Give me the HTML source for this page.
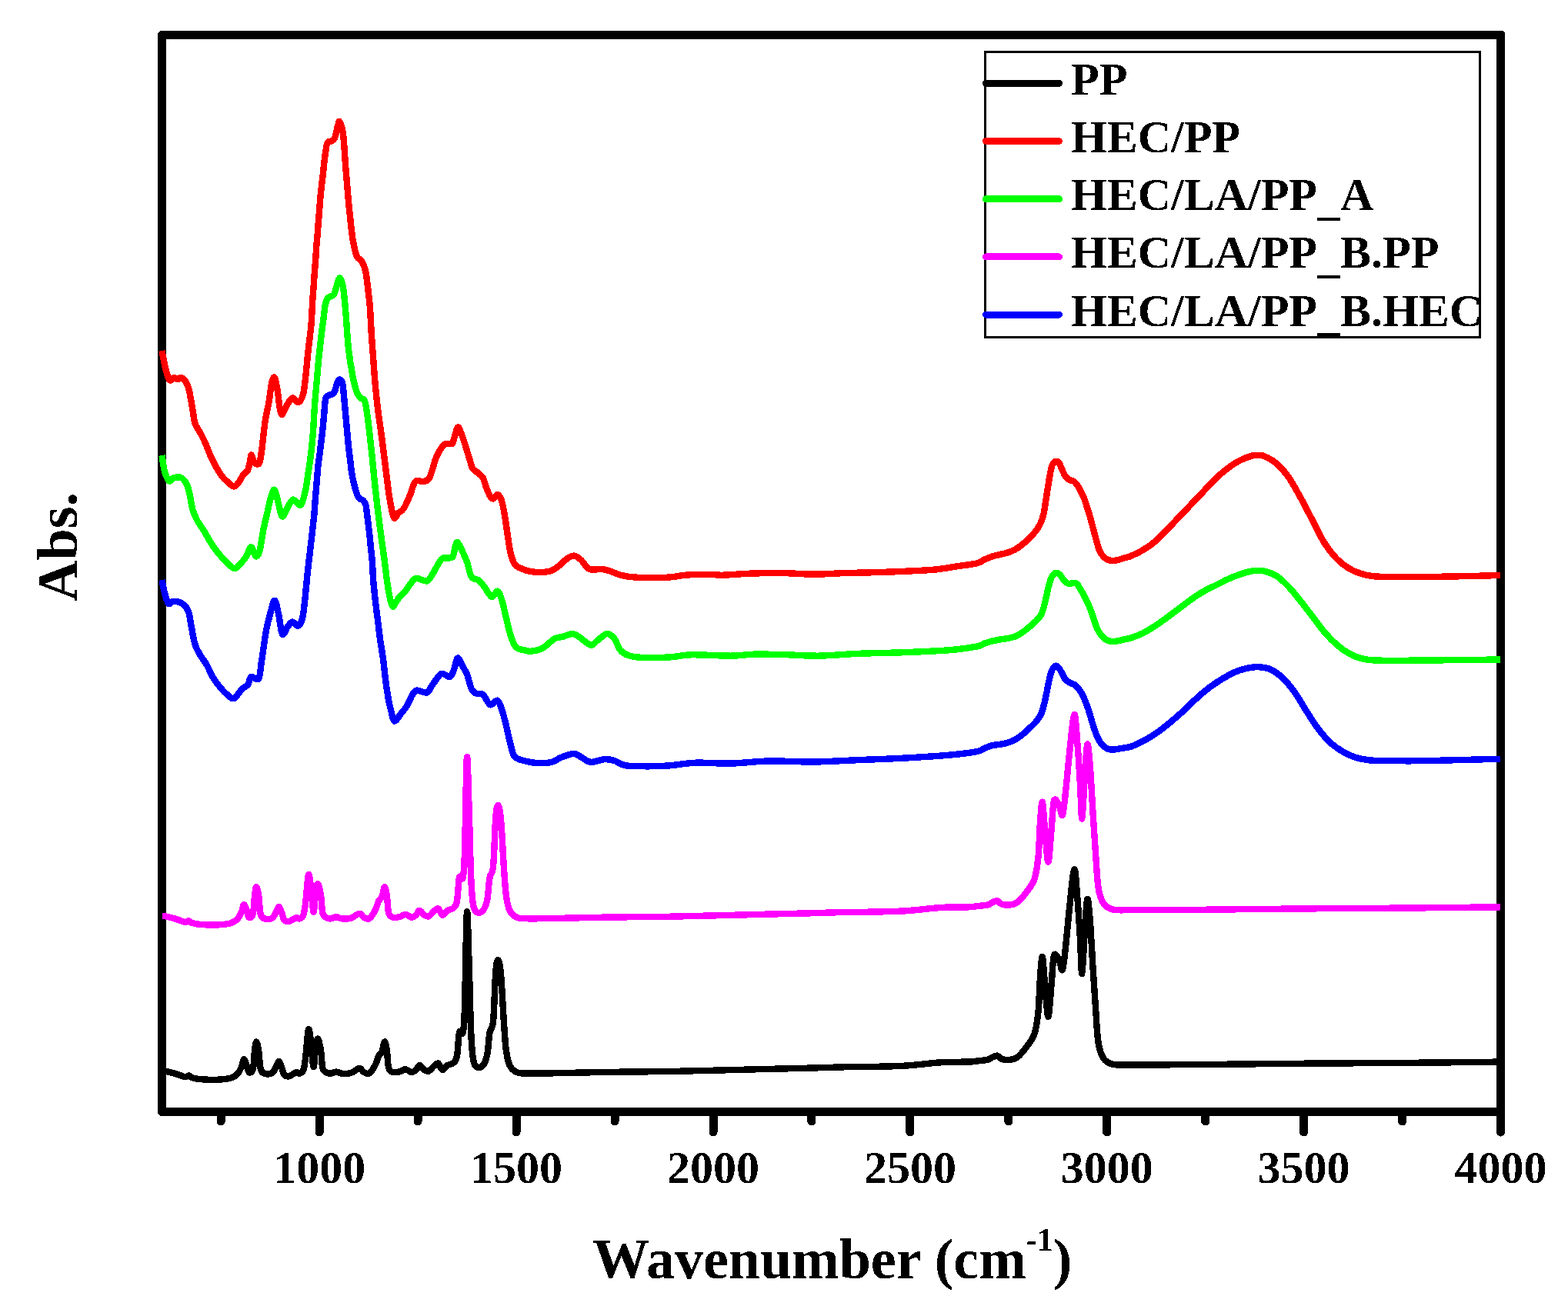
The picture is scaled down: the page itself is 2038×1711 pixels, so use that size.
<!DOCTYPE html><html><head><meta charset="utf-8"><title>FTIR spectra</title><style>html,body{margin:0;padding:0;background:#fff;overflow:hidden;}svg{display:block;}path,line,rect{shape-rendering:crispEdges;}text{font-family:"Liberation Serif","Times New Roman",serif;font-weight:bold;fill:#000;}</style></head><body>
<svg width="2038" height="1711" viewBox="0 0 2038 1711">
<defs><filter id="crisp" x="-10%" y="-30%" width="120%" height="160%" color-interpolation-filters="sRGB"><feComponentTransfer><feFuncA type="discrete" tableValues="0 1"/></feComponentTransfer></filter></defs>
<rect width="2038" height="1711" fill="#fff"/>
<g stroke="#000" stroke-width="11" stroke-linecap="round"><line x1="287.3" y1="1446.5" x2="287.3" y2="1458"/><line x1="415.2" y1="1446.5" x2="415.2" y2="1472"/><line x1="543.1" y1="1446.5" x2="543.1" y2="1458"/><line x1="671.1" y1="1446.5" x2="671.1" y2="1472"/><line x1="799.0" y1="1446.5" x2="799.0" y2="1458"/><line x1="927.0" y1="1446.5" x2="927.0" y2="1472"/><line x1="1054.9" y1="1446.5" x2="1054.9" y2="1458"/><line x1="1182.9" y1="1446.5" x2="1182.9" y2="1472"/><line x1="1310.8" y1="1446.5" x2="1310.8" y2="1458"/><line x1="1438.7" y1="1446.5" x2="1438.7" y2="1472"/><line x1="1566.7" y1="1446.5" x2="1566.7" y2="1458"/><line x1="1694.6" y1="1446.5" x2="1694.6" y2="1472"/><line x1="1822.6" y1="1446.5" x2="1822.6" y2="1458"/><line x1="1950.5" y1="1446.5" x2="1950.5" y2="1472"/></g>
<path fill="#000" fill-rule="evenodd" d="M208 40L1953 40L1956 43L1956 1451L208 1451L205 1448L205 43Z M216 51L1945 51L1945 1440L216 1440Z"/>
<path d="M210.5 1392.5C211.3 1392.5 212.3 1392.0 215.5 1392.7C218.7 1393.4 225.4 1395.2 229.4 1396.4C233.4 1397.6 237.4 1399.5 239.7 1400.0C242.0 1400.5 242.0 1399.8 243.0 1399.5C244.0 1399.2 244.6 1398.2 245.6 1398.5C246.6 1398.8 246.8 1400.2 249.0 1401.0C251.2 1401.8 253.6 1402.5 258.9 1403.0C264.2 1403.5 274.1 1404.0 281.0 1403.8C287.9 1403.6 295.3 1402.9 300.0 1401.6C304.7 1400.2 306.7 1398.2 309.0 1395.7C311.3 1393.2 312.7 1390.0 314.0 1386.9C315.3 1383.8 315.9 1377.5 317.0 1377.3C318.1 1377.0 319.6 1382.6 320.7 1385.4C321.8 1388.2 322.3 1393.5 323.7 1394.2C325.1 1394.9 327.6 1394.5 328.8 1389.8C330.0 1385.1 330.3 1371.9 331.0 1366.0C331.7 1360.1 332.3 1354.5 333.2 1354.5C334.1 1354.5 335.2 1359.9 336.2 1366.0C337.2 1372.1 337.3 1386.2 339.1 1391.3C340.9 1396.4 344.6 1395.9 347.2 1396.4C349.8 1396.9 352.5 1396.0 354.6 1394.2C356.7 1392.4 358.4 1387.7 359.7 1385.4C361.0 1383.1 361.6 1379.7 362.7 1380.2C363.8 1380.7 365.2 1385.5 366.3 1388.3C367.4 1391.1 367.8 1395.3 369.3 1397.2C370.8 1399.1 373.2 1399.5 375.2 1399.4C377.2 1399.3 379.4 1397.3 381.1 1396.4C382.8 1395.5 384.1 1394.3 385.5 1394.2C386.9 1394.1 387.7 1396.2 389.2 1395.7C390.7 1395.2 392.9 1395.0 394.3 1391.3C395.7 1387.6 396.2 1382.4 397.3 1373.6C398.4 1364.8 399.8 1340.8 401.0 1338.3C402.2 1335.8 403.5 1350.8 404.6 1358.9C405.7 1367.0 406.6 1386.9 407.6 1386.9C408.6 1386.9 409.5 1364.9 410.5 1358.9C411.5 1352.9 412.4 1349.6 413.5 1350.8C414.6 1352.0 416.1 1360.0 417.1 1366.2C418.1 1372.5 418.2 1383.6 419.3 1388.3C420.4 1393.0 422.1 1393.0 423.8 1394.2C425.5 1395.4 427.4 1395.8 429.6 1395.7C431.8 1395.6 434.5 1393.5 437.0 1393.5C439.5 1393.5 441.2 1395.5 444.4 1395.7C447.6 1396.0 452.3 1396.1 456.1 1395.0C459.9 1393.9 464.5 1389.2 467.2 1389.0C469.9 1388.8 470.2 1392.4 472.3 1393.5C474.4 1394.6 477.1 1397.1 479.7 1395.7C482.2 1394.3 485.5 1388.8 487.6 1385.0C489.7 1381.2 490.7 1375.8 492.2 1372.8C493.7 1369.8 495.4 1369.8 496.7 1366.7C498.0 1363.7 498.8 1354.8 499.8 1354.5C500.8 1354.2 501.9 1359.6 502.8 1365.2C503.7 1370.8 503.8 1383.2 505.1 1388.0C506.4 1392.8 508.0 1393.1 510.4 1394.0C512.8 1394.9 516.7 1393.9 519.5 1393.3C522.3 1392.7 524.6 1390.1 527.1 1390.2C529.6 1390.3 532.4 1393.9 534.7 1394.0C537.0 1394.1 539.0 1392.5 540.8 1391.0C542.6 1389.5 543.5 1385.0 545.3 1385.0C547.1 1385.0 549.4 1389.8 551.4 1391.0C553.4 1392.2 555.5 1393.3 557.5 1392.5C559.5 1391.7 561.6 1388.1 563.6 1386.4C565.6 1384.8 567.8 1381.8 569.7 1382.6C571.6 1383.4 573.0 1390.6 575.0 1391.0C577.0 1391.4 579.4 1386.5 581.8 1385.0C584.2 1383.5 587.4 1383.9 589.4 1381.9C591.4 1379.9 592.7 1379.4 594.0 1372.8C595.3 1366.2 595.7 1347.5 597.0 1342.4C598.3 1337.3 600.5 1347.5 601.6 1342.4C602.8 1337.3 603.0 1338.1 603.9 1312.0C604.8 1285.9 605.9 1193.4 606.9 1185.8C607.9 1178.2 609.1 1240.3 610.0 1266.4C610.9 1292.5 611.3 1323.7 612.2 1342.4C613.1 1361.1 613.8 1371.2 615.3 1378.8C616.8 1386.4 619.0 1387.2 621.3 1388.0C623.6 1388.8 626.9 1386.5 628.9 1383.4C630.9 1380.4 632.2 1376.5 633.5 1369.7C634.8 1362.9 635.2 1349.5 636.5 1342.4C637.8 1335.3 639.8 1339.9 641.1 1327.2C642.4 1314.5 643.1 1279.6 644.1 1266.4C645.1 1253.2 646.1 1248.1 647.2 1248.1C648.4 1248.1 649.7 1253.2 651.0 1266.4C652.3 1279.6 653.7 1310.7 654.8 1327.2C655.9 1343.7 656.5 1355.6 657.8 1365.2C659.1 1374.8 660.1 1380.2 662.4 1385.0C664.7 1389.8 667.7 1392.2 671.5 1394.0C675.3 1395.8 677.1 1395.4 685.2 1395.6C693.3 1395.8 702.8 1395.6 720.0 1395.3C737.2 1395.0 763.2 1394.3 788.3 1393.9C813.4 1393.5 846.2 1393.4 870.7 1393.0C895.2 1392.6 914.9 1392.0 935.5 1391.5C956.1 1391.0 974.8 1390.5 994.4 1390.0C1014.0 1389.5 1035.1 1389.1 1053.3 1388.6C1071.5 1388.1 1091.5 1387.3 1103.3 1387.1C1115.1 1386.8 1111.7 1387.3 1124.0 1387.1C1136.3 1386.8 1160.2 1386.6 1176.9 1385.6C1193.6 1384.6 1210.3 1382.0 1224.0 1381.2C1237.7 1380.4 1251.6 1380.9 1259.3 1380.6C1267.0 1380.3 1266.0 1380.0 1270.0 1379.5C1274.0 1379.0 1280.2 1378.6 1283.6 1377.8C1287.0 1377.0 1288.2 1375.2 1290.3 1374.4C1292.4 1373.6 1294.3 1372.3 1296.3 1372.7C1298.3 1373.1 1299.5 1376.2 1302.2 1377.0C1304.9 1377.8 1309.0 1378.2 1312.4 1377.8C1315.8 1377.4 1318.8 1377.2 1322.5 1374.4C1326.2 1371.6 1330.7 1365.9 1334.4 1360.8C1338.1 1355.7 1342.0 1351.8 1344.6 1343.9C1347.1 1336.0 1348.6 1324.1 1349.7 1313.4C1350.8 1302.7 1350.6 1291.1 1351.4 1279.5C1352.2 1267.9 1353.6 1243.9 1354.7 1243.9C1355.8 1243.9 1356.8 1266.5 1358.1 1279.5C1359.4 1292.5 1361.0 1321.9 1362.4 1321.9C1363.8 1321.9 1365.3 1292.8 1366.6 1279.5C1367.9 1266.2 1368.3 1247.3 1370.0 1242.2C1371.7 1237.1 1375.0 1245.9 1376.8 1249.0C1378.6 1252.1 1379.6 1264.2 1381.0 1260.8C1382.4 1257.4 1383.8 1242.4 1385.3 1228.6C1386.8 1214.8 1388.5 1194.2 1390.3 1177.8C1392.1 1161.4 1394.6 1131.7 1396.3 1130.3C1398.0 1128.9 1399.2 1154.3 1400.5 1169.3C1401.8 1184.3 1402.9 1204.1 1403.9 1220.2C1404.9 1236.3 1405.4 1267.3 1406.4 1265.9C1407.4 1264.5 1408.7 1227.8 1409.8 1211.7C1410.9 1195.6 1412.1 1172.1 1413.2 1169.3C1414.3 1166.5 1415.3 1179.2 1416.6 1194.7C1417.9 1210.2 1419.5 1242.7 1420.8 1262.5C1422.1 1282.3 1423.1 1297.9 1424.2 1313.4C1425.3 1329.0 1425.9 1345.3 1427.6 1355.8C1429.3 1366.2 1431.3 1371.4 1434.4 1376.1C1437.5 1380.8 1440.4 1382.3 1446.3 1383.7C1452.2 1385.1 1449.8 1384.5 1470.0 1384.6C1490.2 1384.6 1530.1 1384.3 1567.6 1384.0C1605.1 1383.7 1652.7 1383.0 1695.2 1382.7C1737.7 1382.4 1780.2 1382.2 1822.7 1381.9C1865.2 1381.6 1928.8 1380.8 1950.0 1380.6" fill="none" stroke="#000000" stroke-width="8.4" stroke-linejoin="round" stroke-linecap="butt"/>
<path d="M210.5 1191.2C211.3 1191.2 212.3 1190.8 215.5 1191.4C218.7 1192.1 225.4 1193.9 229.4 1195.1C233.4 1196.3 237.4 1198.2 239.7 1198.7C242.0 1199.2 242.0 1198.5 243.0 1198.2C244.0 1198.0 244.6 1197.0 245.6 1197.2C246.6 1197.5 246.8 1199.0 249.0 1199.7C251.2 1200.5 253.6 1201.2 258.9 1201.7C264.2 1202.2 274.1 1202.7 281.0 1202.5C287.9 1202.3 295.3 1201.6 300.0 1200.3C304.7 1199.0 306.7 1196.9 309.0 1194.4C311.3 1192.0 312.7 1188.7 314.0 1185.6C315.3 1182.5 315.9 1176.2 317.0 1176.0C318.1 1175.8 319.6 1181.3 320.7 1184.1C321.8 1186.9 322.3 1192.2 323.7 1192.9C325.1 1193.6 327.6 1193.2 328.8 1188.5C330.0 1183.8 330.3 1170.6 331.0 1164.7C331.7 1158.8 332.3 1153.2 333.2 1153.2C334.1 1153.2 335.2 1158.6 336.2 1164.7C337.2 1170.8 337.3 1184.9 339.1 1190.0C340.9 1195.1 344.6 1194.6 347.2 1195.1C349.8 1195.6 352.5 1194.7 354.6 1192.9C356.7 1191.1 358.4 1186.4 359.7 1184.1C361.0 1181.8 361.6 1178.4 362.7 1178.9C363.8 1179.4 365.2 1184.2 366.3 1187.0C367.4 1189.8 367.8 1194.1 369.3 1195.9C370.8 1197.8 373.2 1198.2 375.2 1198.1C377.2 1198.0 379.4 1196.0 381.1 1195.1C382.8 1194.2 384.1 1193.0 385.5 1192.9C386.9 1192.8 387.7 1194.9 389.2 1194.4C390.7 1193.9 392.9 1193.7 394.3 1190.0C395.7 1186.3 396.2 1181.1 397.3 1172.3C398.4 1163.5 399.8 1139.5 401.0 1137.0C402.2 1134.5 403.5 1149.5 404.6 1157.6C405.7 1165.7 406.6 1185.6 407.6 1185.6C408.6 1185.6 409.5 1163.6 410.5 1157.6C411.5 1151.6 412.4 1148.3 413.5 1149.5C414.6 1150.7 416.1 1158.7 417.1 1164.9C418.1 1171.2 418.2 1182.3 419.3 1187.0C420.4 1191.7 422.1 1191.7 423.8 1192.9C425.5 1194.1 427.4 1194.5 429.6 1194.4C431.8 1194.3 434.5 1192.2 437.0 1192.2C439.5 1192.2 441.2 1194.2 444.4 1194.4C447.6 1194.7 452.3 1194.8 456.1 1193.7C459.9 1192.6 464.5 1188.0 467.2 1187.7C469.9 1187.5 470.2 1191.1 472.3 1192.2C474.4 1193.3 477.1 1195.8 479.7 1194.4C482.2 1193.0 485.5 1187.5 487.6 1183.7C489.7 1179.9 490.7 1174.5 492.2 1171.5C493.7 1168.5 495.4 1168.5 496.7 1165.4C498.0 1162.4 498.8 1153.5 499.8 1153.2C500.8 1153.0 501.9 1158.3 502.8 1163.9C503.7 1169.5 503.8 1181.9 505.1 1186.7C506.4 1191.5 508.0 1191.8 510.4 1192.7C512.8 1193.6 516.7 1192.6 519.5 1192.0C522.3 1191.4 524.6 1188.8 527.1 1188.9C529.6 1189.0 532.4 1192.6 534.7 1192.7C537.0 1192.8 539.0 1191.2 540.8 1189.7C542.6 1188.2 543.5 1183.7 545.3 1183.7C547.1 1183.7 549.4 1188.5 551.4 1189.7C553.4 1191.0 555.5 1192.0 557.5 1191.2C559.5 1190.4 561.6 1186.8 563.6 1185.1C565.6 1183.5 567.8 1180.5 569.7 1181.3C571.6 1182.1 573.0 1189.3 575.0 1189.7C577.0 1190.1 579.4 1185.2 581.8 1183.7C584.2 1182.2 587.4 1182.6 589.4 1180.6C591.4 1178.6 592.7 1178.1 594.0 1171.5C595.3 1164.9 595.7 1146.2 597.0 1141.1C598.3 1136.0 600.5 1146.2 601.6 1141.1C602.8 1136.0 603.0 1136.8 603.9 1110.7C604.8 1084.6 605.9 992.1 606.9 984.5C607.9 976.9 609.1 1039.0 610.0 1065.1C610.9 1091.2 611.3 1122.4 612.2 1141.1C613.1 1159.8 613.8 1169.9 615.3 1177.5C616.8 1185.1 619.0 1185.9 621.3 1186.7C623.6 1187.5 626.9 1185.2 628.9 1182.1C630.9 1179.1 632.2 1175.2 633.5 1168.4C634.8 1161.6 635.2 1148.2 636.5 1141.1C637.8 1134.0 639.8 1138.6 641.1 1125.9C642.4 1113.2 643.1 1078.3 644.1 1065.1C645.1 1051.9 646.1 1046.8 647.2 1046.8C648.4 1046.8 649.7 1051.9 651.0 1065.1C652.3 1078.3 653.7 1109.4 654.8 1125.9C655.9 1142.4 656.5 1154.3 657.8 1163.9C659.1 1173.5 660.1 1178.9 662.4 1183.7C664.7 1188.5 667.7 1190.9 671.5 1192.7C675.3 1194.5 677.1 1194.1 685.2 1194.3C693.3 1194.5 702.8 1194.3 720.0 1194.0C737.2 1193.7 763.2 1193.0 788.3 1192.6C813.4 1192.2 846.2 1192.1 870.7 1191.7C895.2 1191.3 914.9 1190.7 935.5 1190.2C956.1 1189.7 974.8 1189.2 994.4 1188.7C1014.0 1188.2 1035.1 1187.8 1053.3 1187.3C1071.5 1186.8 1091.5 1186.0 1103.3 1185.8C1115.1 1185.5 1111.7 1186.0 1124.0 1185.8C1136.3 1185.5 1160.2 1185.3 1176.9 1184.3C1193.6 1183.3 1210.3 1180.7 1224.0 1179.9C1237.7 1179.1 1251.6 1179.6 1259.3 1179.3C1267.0 1179.0 1266.0 1178.7 1270.0 1178.2C1274.0 1177.7 1280.2 1177.3 1283.6 1176.5C1287.0 1175.7 1288.2 1174.0 1290.3 1173.1C1292.4 1172.3 1294.3 1171.0 1296.3 1171.4C1298.3 1171.8 1299.5 1174.9 1302.2 1175.7C1304.9 1176.5 1309.0 1176.9 1312.4 1176.5C1315.8 1176.1 1318.8 1175.9 1322.5 1173.1C1326.2 1170.3 1330.7 1164.6 1334.4 1159.5C1338.1 1154.4 1342.0 1150.5 1344.6 1142.6C1347.1 1134.7 1348.6 1122.8 1349.7 1112.1C1350.8 1101.4 1350.6 1089.8 1351.4 1078.2C1352.2 1066.6 1353.6 1042.6 1354.7 1042.6C1355.8 1042.6 1356.8 1065.2 1358.1 1078.2C1359.4 1091.2 1361.0 1120.6 1362.4 1120.6C1363.8 1120.6 1365.3 1091.5 1366.6 1078.2C1367.9 1064.9 1368.3 1046.0 1370.0 1040.9C1371.7 1035.8 1375.0 1044.6 1376.8 1047.7C1378.6 1050.8 1379.6 1062.9 1381.0 1059.5C1382.4 1056.1 1383.8 1041.1 1385.3 1027.3C1386.8 1013.5 1388.5 992.9 1390.3 976.5C1392.1 960.1 1394.6 930.4 1396.3 929.0C1398.0 927.6 1399.2 953.0 1400.5 968.0C1401.8 983.0 1402.9 1002.8 1403.9 1018.9C1404.9 1035.0 1405.4 1066.0 1406.4 1064.6C1407.4 1063.2 1408.7 1026.5 1409.8 1010.4C1410.9 994.3 1412.1 970.8 1413.2 968.0C1414.3 965.2 1415.3 977.9 1416.6 993.4C1417.9 1008.9 1419.5 1041.4 1420.8 1061.2C1422.1 1081.0 1423.1 1096.6 1424.2 1112.1C1425.3 1127.7 1425.9 1144.0 1427.6 1154.5C1429.3 1165.0 1431.3 1170.1 1434.4 1174.8C1437.5 1179.5 1440.4 1181.0 1446.3 1182.4C1452.2 1183.8 1449.8 1183.2 1470.0 1183.3C1490.2 1183.3 1530.1 1183.0 1567.6 1182.7C1605.1 1182.4 1652.7 1181.8 1695.2 1181.4C1737.7 1181.1 1780.2 1181.0 1822.7 1180.6C1865.2 1180.2 1928.8 1179.5 1950.0 1179.3" fill="none" stroke="#FF00FF" stroke-width="8.4" stroke-linejoin="round" stroke-linecap="butt"/>
<path d="M210.5 754.0C211.1 756.8 212.6 765.8 214.0 770.9C215.4 776.0 217.1 783.0 218.9 784.8C220.7 786.6 221.9 781.8 224.9 781.8C227.9 781.8 233.5 782.6 236.8 784.8C240.1 786.9 242.8 789.7 244.8 794.7C246.8 799.7 247.2 807.3 248.7 814.6C250.2 821.9 251.7 832.1 253.7 838.4C255.7 844.7 258.2 848.1 260.7 852.4C263.2 856.7 266.0 859.7 268.6 864.3C271.2 868.9 273.6 875.2 276.6 880.2C279.6 885.2 283.2 890.1 286.5 894.1C289.8 898.1 293.5 901.8 296.5 904.1C299.5 906.4 301.4 909.3 304.4 908.0C307.4 906.7 311.3 899.1 314.3 896.1C317.3 893.1 320.3 892.8 322.3 890.1C324.3 887.5 324.0 881.5 326.3 880.2C328.6 878.9 333.9 885.9 336.2 882.2C338.5 878.6 338.5 868.9 340.2 858.3C341.9 847.7 344.2 829.2 346.2 818.6C348.2 808.0 350.3 801.0 352.1 794.7C353.9 788.4 355.4 780.1 357.1 780.8C358.8 781.5 360.5 791.4 362.1 798.7C363.8 806.0 365.0 821.9 367.0 824.5C369.0 827.1 371.8 817.2 374.0 814.6C376.2 812.0 377.7 808.8 380.0 808.6C382.3 808.4 385.5 815.3 387.9 813.6C390.2 811.9 392.1 810.2 394.1 798.3C396.1 786.4 398.2 758.6 400.0 742.3C401.8 725.9 403.5 712.1 404.9 700.2C406.3 688.3 407.4 678.5 408.2 670.9C408.9 663.3 409.0 660.0 409.4 654.5C409.8 649.0 410.2 643.7 410.7 638.2C411.1 632.8 411.6 627.3 412.1 621.8C412.6 616.3 412.9 610.8 413.5 605.4C414.1 600.0 415.0 594.3 415.7 589.1C416.4 583.9 416.9 578.9 417.5 574.0C418.1 569.1 418.6 566.0 419.2 560.0C419.8 554.0 420.7 544.7 421.3 537.9C421.9 531.1 422.2 522.9 423.0 519.0C423.8 515.1 424.8 515.5 426.0 514.5C427.2 513.5 428.7 513.6 430.0 513.0C431.3 512.4 432.9 512.5 434.0 511.0C435.1 509.5 435.8 506.3 436.5 504.0C437.2 501.7 437.8 498.8 438.5 497.0C439.2 495.2 440.1 493.9 440.8 493.5C441.6 493.1 442.2 493.4 443.0 494.5C443.8 495.6 444.6 493.8 445.5 500.0C446.4 506.2 447.3 519.0 448.5 531.6C449.7 544.2 451.4 564.0 452.5 575.4C453.6 586.8 454.6 593.2 455.4 600.0C456.2 606.8 456.4 610.9 457.4 616.4C458.3 621.9 459.9 628.1 461.1 632.7C462.3 637.3 463.4 641.4 464.5 644.0C465.6 646.6 466.7 647.3 468.0 648.5C469.3 649.7 471.2 649.6 472.5 651.0C473.8 652.4 474.8 654.6 475.5 657.0C476.2 659.4 476.2 661.4 476.7 665.5C477.2 669.6 478.0 676.3 478.7 681.8C479.4 687.2 480.0 692.7 480.6 698.2C481.2 703.7 481.6 709.2 482.2 714.6C482.8 720.0 483.4 724.0 483.9 730.9C484.4 737.8 484.6 747.3 485.3 755.7C486.0 764.1 486.9 772.8 487.9 781.4C488.9 790.0 490.0 798.5 491.1 807.1C492.2 815.7 493.1 824.2 494.3 832.8C495.5 841.4 497.1 849.9 498.2 858.5C499.3 867.1 500.0 875.6 501.1 884.2C502.2 892.8 503.9 903.6 505.0 910.0C506.1 916.4 506.7 918.2 508.0 922.8C509.3 927.4 510.5 936.7 512.7 937.5C514.9 938.3 518.6 930.8 521.2 927.6C523.9 924.4 526.1 922.3 528.6 918.2C531.1 914.1 533.9 906.6 536.1 903.2C538.3 899.8 538.6 898.1 541.7 897.6C544.8 897.1 551.4 901.6 554.8 900.4C558.2 899.1 559.2 894.1 562.3 890.1C565.4 886.1 569.8 877.8 573.5 876.1C577.2 874.4 582.0 881.0 584.8 879.9C587.6 878.8 588.7 873.7 590.4 869.6C592.1 865.5 593.1 856.0 595.0 855.5C596.9 855.0 599.6 863.2 601.6 866.8C603.6 870.4 605.3 872.3 607.2 877.1C609.1 881.9 610.9 891.8 612.8 895.8C614.7 899.8 615.9 900.2 618.4 901.4C620.9 902.6 624.7 900.7 627.8 903.2C630.9 905.7 634.0 915.0 637.1 916.3C640.2 917.5 644.0 909.8 646.5 910.7C649.0 911.7 650.2 916.7 652.1 922.0C654.0 927.3 655.8 935.0 657.7 942.5C659.6 950.0 661.4 959.9 663.3 966.8C665.2 973.7 665.8 980.0 668.9 983.7C672.0 987.5 677.0 987.9 682.0 989.3C687.0 990.7 693.0 991.9 698.9 992.1C704.8 992.4 712.0 992.1 717.2 990.8C722.4 989.5 725.1 986.3 729.9 984.5C734.7 982.7 741.7 979.8 746.2 979.9C750.7 980.0 753.4 983.6 757.0 985.4C760.6 987.2 763.1 990.5 767.9 990.8C772.7 991.1 780.9 987.5 786.0 987.2C791.1 986.9 794.2 987.6 798.7 989.0C803.2 990.4 805.7 994.1 813.2 995.3C820.8 996.5 834.3 996.3 844.0 996.3C853.7 996.3 861.2 996.1 871.2 995.3C881.2 994.5 890.7 992.2 903.8 991.7C916.9 991.2 934.1 993.0 950.0 992.6C965.9 992.2 980.9 989.9 998.9 989.5C1016.9 989.1 1038.2 990.7 1057.8 990.5C1077.4 990.3 1097.0 988.9 1116.6 988.1C1136.2 987.3 1155.9 986.7 1175.5 985.6C1195.1 984.5 1218.7 983.0 1234.4 981.6C1250.2 980.2 1262.4 978.6 1270.0 977.1C1277.6 975.6 1276.5 974.0 1279.8 972.7C1283.1 971.4 1286.3 970.0 1289.6 969.2C1292.9 968.4 1296.1 968.4 1299.4 967.8C1302.7 967.2 1306.0 966.8 1309.3 965.8C1312.6 964.8 1315.8 963.7 1319.1 961.9C1322.4 960.1 1325.6 957.6 1328.9 955.0C1332.2 952.4 1335.6 949.2 1338.7 946.2C1341.8 943.2 1345.0 940.4 1347.5 937.3C1350.0 934.2 1351.8 931.2 1353.4 927.5C1355.0 923.8 1356.2 919.2 1357.3 914.8C1358.4 910.4 1359.3 905.8 1360.3 901.0C1361.3 896.2 1362.0 891.2 1363.2 886.3C1364.4 881.4 1365.6 875.0 1367.2 871.6C1368.8 868.2 1371.0 866.0 1372.6 865.7C1374.2 865.4 1375.6 867.8 1377.0 869.6C1378.4 871.4 1379.6 874.2 1380.9 876.5C1382.2 878.8 1383.2 881.5 1384.8 883.4C1386.4 885.3 1388.7 886.7 1390.7 887.8C1392.7 888.9 1394.8 889.0 1396.6 890.2C1398.4 891.4 1399.9 893.1 1401.5 895.1C1403.1 897.1 1404.9 899.4 1406.4 902.0C1407.9 904.6 1409.0 907.5 1410.3 910.8C1411.6 914.1 1413.0 917.7 1414.3 921.6C1415.6 925.5 1416.9 930.1 1418.2 934.4C1419.5 938.7 1420.6 943.0 1422.1 947.2C1423.6 951.5 1425.2 956.3 1427.0 959.9C1428.8 963.5 1430.8 966.4 1432.9 968.7C1435.0 971.0 1437.5 972.6 1439.8 973.6C1442.1 974.6 1443.8 974.7 1446.6 974.6C1449.4 974.5 1452.6 973.9 1456.5 973.2C1460.4 972.5 1465.1 972.2 1470.0 970.6C1474.9 969.0 1480.5 966.2 1485.8 963.5C1491.1 960.8 1496.3 957.6 1501.6 954.1C1506.8 950.6 1512.0 946.4 1517.3 942.2C1522.5 938.0 1527.8 933.5 1533.1 928.8C1538.4 924.1 1543.6 918.7 1548.9 913.8C1554.2 908.9 1559.4 903.9 1564.7 899.6C1570.0 895.3 1575.2 891.3 1580.5 887.8C1585.8 884.2 1591.0 881.1 1596.2 878.3C1601.5 875.5 1606.7 873.0 1612.0 871.2C1617.3 869.4 1623.6 868.2 1627.8 867.6C1632.0 867.0 1633.3 866.8 1637.3 867.3C1641.2 867.8 1646.5 868.0 1651.5 870.4C1656.5 872.8 1662.0 876.5 1667.2 881.5C1672.5 886.5 1677.7 893.0 1683.0 900.4C1688.3 907.8 1693.5 917.6 1698.8 925.7C1704.1 933.9 1709.3 942.5 1714.6 949.3C1719.9 956.1 1725.2 962.0 1730.4 966.7C1735.7 971.4 1740.8 974.7 1746.1 977.7C1751.3 980.7 1756.6 983.1 1761.9 984.8C1767.2 986.5 1773.0 987.3 1777.7 988.0C1782.4 988.7 1778.7 988.6 1790.0 988.8C1801.3 989.0 1819.1 989.6 1845.8 989.2C1872.5 988.9 1932.6 987.1 1950.0 986.7" fill="none" stroke="#0000FF" stroke-width="8.4" stroke-linejoin="round" stroke-linecap="butt"/>
<path d="M210.5 592.0C211.1 595.5 212.4 607.5 214.0 613.0C215.6 618.5 218.1 623.8 219.9 625.2C221.7 626.7 222.4 622.4 224.9 621.7C227.4 621.0 231.8 619.5 234.8 620.8C237.8 622.1 240.8 625.9 242.8 629.7C244.8 633.5 245.4 638.0 246.7 643.6C248.0 649.2 249.0 657.9 250.7 663.5C252.4 669.1 254.4 673.1 256.7 677.4C259.0 681.7 262.0 685.0 264.6 689.3C267.2 693.6 270.0 699.0 272.6 703.3C275.2 707.6 277.5 711.2 280.5 715.2C283.5 719.2 287.5 723.8 290.5 727.1C293.5 730.4 295.9 733.1 298.4 735.1C300.9 737.1 303.1 739.3 305.4 739.0C307.7 738.7 309.9 735.8 312.4 733.1C314.9 730.5 318.0 726.8 320.3 723.1C322.6 719.5 324.3 711.2 326.3 711.2C328.3 711.2 330.4 722.1 332.2 723.1C334.0 724.1 335.5 722.8 337.2 717.2C338.9 711.6 340.4 698.2 342.2 689.3C344.0 680.3 346.4 670.9 348.1 663.5C349.8 656.1 350.9 649.6 352.4 645.2C353.9 640.8 355.5 635.3 357.1 637.0C358.7 638.7 360.5 649.8 362.1 655.5C363.8 661.2 365.0 670.8 367.0 671.5C369.0 672.2 371.7 663.1 374.0 659.5C376.3 655.9 378.1 650.1 380.9 649.6C383.7 649.1 388.2 658.4 390.9 656.5C393.6 654.6 395.4 644.0 396.9 638.2C398.3 632.4 398.7 627.3 399.6 621.8C400.5 616.3 401.3 610.8 402.1 605.4C402.9 600.0 403.7 594.5 404.3 589.1C404.9 583.7 405.5 577.7 406.0 572.7C406.5 567.7 406.7 564.7 407.1 558.9C407.5 553.1 407.9 544.9 408.3 537.9C408.8 530.9 409.2 523.8 409.8 516.8C410.4 509.8 411.1 502.8 411.7 495.8C412.3 488.8 412.9 481.7 413.5 474.7C414.1 467.7 414.8 460.7 415.6 453.7C416.4 446.7 417.2 439.6 418.1 432.6C419.0 425.6 420.0 417.7 420.8 411.6C421.6 405.5 422.0 399.8 422.9 395.8C423.8 391.8 424.7 389.3 426.0 387.5C427.3 385.7 429.1 385.8 430.5 385.0C431.9 384.2 433.1 384.8 434.3 382.5C435.5 380.2 436.4 375.0 437.6 371.5C438.8 368.0 440.3 361.3 441.7 361.5C443.1 361.7 444.6 365.8 445.8 372.5C447.0 379.2 447.8 388.6 449.0 402.0C450.2 415.4 451.4 438.3 452.9 452.6C454.4 466.9 456.4 478.3 458.2 487.7C459.9 497.1 461.6 503.8 463.4 508.8C465.1 513.8 466.9 515.5 468.7 517.5C470.4 519.5 472.4 517.2 473.9 521.0C475.4 524.8 476.0 529.9 477.5 540.4C479.0 550.9 480.9 568.1 482.7 584.2C484.4 600.3 486.2 620.7 488.0 636.8C489.8 652.9 491.2 665.2 493.2 680.7C495.2 696.2 498.2 717.5 499.9 730.0C501.5 742.5 502.0 748.0 503.1 755.7C504.2 763.4 505.3 770.5 506.5 776.0C507.7 781.5 509.2 787.2 510.5 788.5C511.8 789.8 512.5 786.1 514.0 784.0C515.5 781.9 517.2 778.6 519.3 776.0C521.4 773.4 524.0 772.0 526.8 768.6C529.6 765.2 533.6 758.3 536.1 755.5C538.6 752.7 538.6 751.7 541.7 751.7C544.8 751.7 551.4 756.4 554.8 755.5C558.2 754.6 559.2 750.8 562.3 746.1C565.4 741.4 570.4 730.8 573.5 727.4C576.6 724.0 578.5 726.1 581.0 725.5C583.5 724.9 586.6 726.5 588.5 723.7C590.4 720.9 591.1 711.7 592.2 708.7C593.3 705.7 593.4 703.9 595.0 705.5C596.6 707.1 599.6 713.8 601.6 718.1C603.6 722.4 605.3 725.9 607.2 731.2C609.1 736.5 610.3 746.0 612.8 749.9C615.3 753.8 619.4 752.3 622.2 754.5C625.0 756.7 626.8 759.4 629.6 763.0C632.4 766.6 636.2 775.1 639.0 776.0C641.8 776.9 644.3 768.0 646.5 768.6C648.7 769.2 650.2 774.2 652.1 779.8C654.0 785.4 655.8 794.7 657.7 802.2C659.6 809.7 661.1 818.2 663.3 824.7C665.5 831.2 667.0 837.9 670.8 841.5C674.5 845.1 682.6 845.3 685.8 846.2C689.0 847.1 686.9 847.3 690.0 846.8C693.1 846.3 699.4 845.8 704.5 843.1C709.6 840.4 716.3 833.1 720.8 830.5C725.3 827.9 727.8 828.8 731.7 827.7C735.6 826.6 740.8 824.0 744.4 824.1C748.0 824.2 749.5 826.2 753.4 828.6C757.3 831.0 764.0 838.0 767.9 838.6C771.8 839.2 773.5 834.7 777.0 832.3C780.5 829.9 785.1 824.4 788.7 824.1C792.3 823.8 795.8 827.0 798.7 830.5C801.6 834.0 803.0 841.4 806.0 845.0C809.0 848.6 812.0 850.6 816.8 852.2C821.6 853.9 825.9 854.5 835.0 854.9C844.1 855.3 860.6 855.0 871.2 854.4C881.8 853.8 885.3 851.6 898.4 851.3C911.5 851.0 936.5 852.8 950.0 852.7C963.5 852.6 967.9 851.0 979.3 850.7C990.7 850.4 1004.4 850.8 1018.5 851.1C1032.6 851.4 1047.4 852.9 1063.7 852.7C1080.0 852.5 1098.0 850.5 1116.6 849.8C1135.2 849.0 1155.9 849.0 1175.5 848.2C1195.1 847.4 1218.7 846.5 1234.4 845.2C1250.2 843.9 1262.4 841.9 1270.0 840.4C1277.6 838.9 1276.5 837.6 1279.8 836.5C1283.1 835.4 1286.3 834.3 1289.6 833.5C1292.9 832.7 1296.1 832.2 1299.4 831.6C1302.7 831.0 1306.0 830.8 1309.3 830.1C1312.6 829.4 1315.8 828.9 1319.1 827.6C1322.4 826.3 1325.6 824.4 1328.9 822.2C1332.2 820.0 1335.8 816.9 1338.7 814.4C1341.6 811.9 1344.0 810.1 1346.5 807.5C1349.0 804.9 1351.6 802.1 1353.4 798.7C1355.2 795.3 1356.2 791.0 1357.3 786.9C1358.4 782.8 1359.3 778.5 1360.3 774.2C1361.3 770.0 1362.0 765.5 1363.2 761.4C1364.4 757.3 1365.6 752.4 1367.2 749.6C1368.8 746.8 1371.2 745.0 1373.0 744.7C1374.8 744.4 1376.3 746.1 1378.0 747.7C1379.7 749.3 1381.1 752.6 1382.9 754.5C1384.7 756.4 1386.8 758.3 1388.7 758.9C1390.7 759.5 1392.8 758.0 1394.6 758.0C1396.4 758.0 1397.9 757.5 1399.5 758.9C1401.1 760.3 1402.8 763.6 1404.4 766.3C1406.1 769.0 1407.8 772.0 1409.4 775.1C1411.1 778.2 1412.8 781.7 1414.3 785.0C1415.8 788.3 1416.9 791.2 1418.2 794.8C1419.5 798.4 1420.8 802.8 1422.1 806.5C1423.4 810.2 1424.5 814.2 1426.0 817.3C1427.5 820.4 1429.1 822.9 1430.9 825.2C1432.7 827.5 1434.5 829.6 1436.8 831.1C1439.1 832.6 1441.8 833.7 1444.7 834.0C1447.7 834.3 1451.6 833.5 1454.5 833.0C1457.4 832.5 1459.7 831.7 1462.3 831.1C1464.9 830.5 1466.1 830.7 1470.0 829.4C1473.9 828.1 1480.5 825.7 1485.8 823.1C1491.1 820.5 1496.3 817.0 1501.6 813.6C1506.8 810.2 1512.0 806.4 1517.3 802.6C1522.5 798.8 1527.8 794.7 1533.1 790.7C1538.4 786.8 1543.6 782.6 1548.9 778.9C1554.2 775.2 1559.4 771.7 1564.7 768.7C1570.0 765.7 1575.2 763.4 1580.5 760.8C1585.8 758.2 1591.0 755.3 1596.2 752.9C1601.5 750.5 1606.7 748.4 1612.0 746.6C1617.3 744.8 1623.8 743.1 1627.8 742.3C1631.8 741.5 1633.1 741.8 1635.7 741.8C1638.3 741.8 1639.7 741.4 1643.6 742.6C1647.5 743.8 1654.0 745.5 1659.3 748.9C1664.5 752.3 1669.8 757.6 1675.1 763.1C1680.4 768.6 1685.6 775.5 1690.9 782.1C1696.2 788.7 1701.4 795.8 1706.7 802.6C1712.0 809.4 1717.2 817.1 1722.5 823.1C1727.8 829.1 1733.0 834.4 1738.2 838.9C1743.5 843.4 1748.7 847.0 1754.0 849.9C1759.3 852.8 1763.8 854.8 1769.8 856.2C1775.8 857.7 1777.3 858.2 1790.0 858.6C1802.7 859.0 1819.1 858.8 1845.8 858.6C1872.5 858.4 1932.6 857.7 1950.0 857.5" fill="none" stroke="#00FF00" stroke-width="8.4" stroke-linejoin="round" stroke-linecap="butt"/>
<path d="M210.5 456.0C211.2 459.7 213.3 471.7 214.9 478.0C216.5 484.3 218.3 491.9 220.2 494.0C222.1 496.1 224.5 491.0 226.3 490.9C228.1 490.8 229.3 493.2 230.8 493.2C232.3 493.2 233.6 490.4 235.4 490.9C237.2 491.4 239.7 493.3 241.5 496.2C243.3 499.1 244.5 502.1 246.0 508.4C247.5 514.7 249.3 527.1 250.6 534.2C251.9 541.3 252.1 546.4 253.6 551.0C255.1 555.6 257.7 557.8 259.7 561.6C261.7 565.4 263.5 568.6 265.8 573.7C268.1 578.8 270.9 586.4 273.4 592.0C275.9 597.6 278.5 602.7 281.0 607.2C283.5 611.8 286.1 616.0 288.6 619.3C291.1 622.6 293.6 624.7 296.2 626.9C298.8 629.1 302.0 632.8 304.5 632.5C307.0 632.2 309.5 627.9 311.4 625.4C313.3 622.9 314.1 620.1 315.9 617.8C317.7 615.4 320.5 614.3 322.0 611.3C323.5 608.3 324.3 602.9 325.1 599.6C325.9 596.3 325.9 591.5 326.6 591.5C327.4 591.5 328.6 597.7 329.6 599.6C330.6 601.5 331.4 602.7 332.7 603.0C334.0 603.3 335.9 604.6 337.2 601.5C338.5 598.4 339.0 593.6 340.3 584.4C341.6 575.2 343.3 556.5 344.8 546.4C346.3 536.3 348.0 531.7 349.4 523.6C350.8 515.5 351.9 503.2 353.2 497.8C354.5 492.4 355.7 489.1 357.0 490.9C358.3 492.7 359.7 501.7 360.8 508.4C361.9 515.1 362.8 526.1 363.8 531.2C364.8 536.3 365.5 539.3 366.9 538.8C368.3 538.3 370.0 531.6 372.2 528.1C374.4 524.6 377.2 518.3 379.8 517.5C382.4 516.7 385.5 524.2 387.9 523.2C390.3 522.2 392.6 517.9 394.2 511.6C395.8 505.3 396.8 493.2 397.7 485.3C398.6 477.4 399.0 471.2 399.7 464.2C400.4 457.2 401.3 450.2 402.1 443.2C402.9 436.2 403.8 430.6 404.5 422.1C405.2 413.6 405.8 399.4 406.2 392.1C406.6 384.8 406.9 382.8 407.2 378.1C407.5 373.4 407.9 368.8 408.2 364.1C408.5 359.4 408.8 354.8 409.2 350.1C409.6 345.4 410.0 340.7 410.3 336.0C410.6 331.3 410.8 326.7 411.1 322.0C411.5 317.3 412.0 313.0 412.4 308.0C412.8 303.0 413.1 297.9 413.6 292.0C414.1 286.1 414.7 278.6 415.2 272.7C415.7 266.8 415.9 261.8 416.4 256.4C416.9 250.9 417.6 245.5 418.2 240.0C418.8 234.5 419.5 229.0 420.1 223.6C420.7 218.2 421.2 212.1 421.8 207.3C422.4 202.5 423.1 198.2 423.6 195.0C424.1 191.8 424.2 189.8 424.8 188.0C425.4 186.2 425.8 185.1 427.0 184.3C428.2 183.5 430.6 183.9 432.0 183.0C433.4 182.1 434.4 181.2 435.3 179.0C436.2 176.8 436.8 172.8 437.5 170.0C438.2 167.2 438.9 164.0 439.5 162.0C440.1 160.0 440.3 156.4 441.4 158.2C442.4 160.0 444.5 163.4 445.8 172.7C447.1 181.9 447.9 200.0 449.0 213.7C450.1 227.3 451.2 242.3 452.3 254.6C453.4 266.9 454.5 277.5 455.6 287.3C456.7 297.1 457.5 305.9 458.9 313.5C460.3 321.1 461.9 328.8 463.8 333.2C465.7 337.6 468.4 336.4 470.3 339.7C472.2 343.0 473.8 346.5 475.2 352.8C476.6 359.1 477.6 369.5 478.5 377.4C479.4 385.3 480.2 390.6 480.9 400.0C481.6 409.4 482.1 422.6 482.8 433.9C483.5 445.2 484.5 456.5 485.3 467.8C486.1 479.1 486.8 490.4 487.9 501.7C488.9 513.0 490.2 524.3 491.6 535.6C493.0 546.9 494.8 558.2 496.3 569.5C497.8 580.8 499.2 592.1 500.6 603.4C502.0 614.7 503.6 628.4 504.8 637.3C506.0 646.2 506.8 651.0 508.0 657.0C509.2 663.0 510.7 671.8 512.3 673.5C513.9 675.2 515.6 669.1 517.6 667.1C519.6 665.1 522.4 664.4 524.4 661.7C526.4 659.0 528.1 654.4 529.7 651.0C531.3 647.6 532.4 645.2 533.8 641.6C535.1 638.0 536.5 632.3 537.8 629.5C539.1 626.7 539.8 625.4 541.8 624.8C543.8 624.2 547.3 626.5 549.9 626.1C552.5 625.8 555.3 625.3 557.3 622.7C559.3 620.1 560.5 614.9 562.0 610.6C563.5 606.4 564.2 601.7 566.0 597.2C567.8 592.7 570.5 587.2 572.7 583.8C575.0 580.4 577.0 578.1 579.5 577.0C582.0 575.9 585.7 578.1 587.5 577.0C589.3 575.9 589.0 573.9 590.2 570.3C591.4 566.7 593.3 556.6 594.9 555.5C596.5 554.4 597.9 559.6 599.6 563.6C601.3 567.6 603.2 574.1 605.0 579.7C606.8 585.3 608.8 592.3 610.4 597.2C612.0 602.1 612.6 606.4 614.4 609.3C616.2 612.2 618.9 612.7 621.1 614.7C623.3 616.7 626.0 618.3 627.8 621.4C629.6 624.5 630.3 629.5 631.9 633.5C633.5 637.5 635.7 643.1 637.3 645.6C638.9 648.1 639.7 648.8 641.3 648.3C642.9 647.8 644.9 642.4 646.7 642.9C648.5 643.4 650.4 646.3 652.0 651.0C653.6 655.7 654.8 663.3 656.1 671.1C657.5 678.9 658.8 689.7 660.1 698.0C661.4 706.3 662.5 714.9 664.1 720.9C665.7 726.9 667.0 731.2 669.5 734.3C672.0 737.4 675.5 738.2 678.9 739.7C682.3 741.2 685.7 742.4 690.0 743.1C694.3 743.8 700.0 744.2 704.5 744.0C709.0 743.8 713.3 743.3 717.2 741.7C721.1 740.1 724.7 737.0 728.0 734.4C731.3 731.8 734.1 728.3 737.1 726.3C740.1 724.3 743.2 722.3 746.2 722.6C749.2 722.9 751.9 725.2 755.2 728.1C758.5 731.0 761.6 737.9 766.1 739.9C770.6 741.9 777.9 739.4 782.4 739.9C786.9 740.4 789.1 741.2 793.3 742.6C797.5 744.0 802.1 746.6 807.8 748.0C813.5 749.4 817.7 750.2 827.7 750.7C837.7 751.2 856.7 751.2 867.6 750.7C878.5 750.2 883.2 748.1 892.9 747.5C902.6 746.9 917.8 747.1 925.6 747.1C933.5 747.1 931.0 748.0 940.0 747.7C949.0 747.4 966.2 745.9 979.3 745.5C992.4 745.1 1005.4 744.9 1018.5 745.1C1031.6 745.3 1044.7 746.7 1057.8 746.7C1070.9 746.7 1083.9 745.5 1097.0 745.1C1110.1 744.7 1123.2 744.6 1136.3 744.2C1149.4 743.8 1162.4 743.4 1175.5 742.8C1188.6 742.2 1203.3 741.7 1214.8 740.6C1226.2 739.5 1235.0 737.7 1244.2 736.3C1253.4 734.9 1264.1 733.8 1270.0 732.3C1275.9 730.8 1276.5 728.9 1279.8 727.4C1283.1 725.9 1286.3 724.6 1289.6 723.5C1292.9 722.4 1296.1 721.8 1299.4 721.0C1302.7 720.2 1306.0 719.7 1309.3 718.6C1312.6 717.5 1315.8 716.4 1319.1 714.6C1322.4 712.8 1325.6 710.4 1328.9 707.8C1332.2 705.2 1335.8 701.8 1338.7 698.9C1341.6 696.0 1344.2 693.2 1346.5 690.1C1348.8 687.0 1350.8 683.9 1352.4 680.3C1354.1 676.7 1355.2 673.4 1356.4 668.5C1357.6 663.6 1358.3 656.8 1359.3 650.8C1360.3 644.8 1361.2 638.2 1362.2 632.2C1363.2 626.2 1364.2 619.2 1365.2 614.5C1366.2 609.8 1366.8 606.2 1368.1 603.7C1369.4 601.2 1371.5 599.9 1373.0 599.8C1374.5 599.6 1375.7 600.8 1377.0 602.8C1378.3 604.8 1379.6 608.8 1380.9 611.6C1382.2 614.4 1383.3 617.4 1384.8 619.4C1386.3 621.4 1387.9 622.8 1389.7 623.9C1391.5 625.0 1393.8 624.6 1395.6 625.8C1397.4 627.0 1398.9 628.8 1400.5 631.2C1402.1 633.6 1403.9 637.0 1405.4 640.0C1406.9 643.0 1408.1 645.4 1409.4 648.9C1410.7 652.4 1412.0 656.6 1413.3 660.7C1414.6 664.8 1415.9 668.8 1417.2 673.4C1418.5 678.0 1419.8 683.2 1421.1 688.1C1422.4 693.0 1423.8 698.3 1425.1 702.9C1426.4 707.5 1427.4 712.0 1429.0 715.6C1430.6 719.2 1432.8 722.3 1434.9 724.4C1437.0 726.5 1438.9 727.7 1441.7 728.4C1444.5 729.1 1448.2 728.9 1451.5 728.4C1454.8 727.9 1458.3 726.3 1461.4 725.4C1464.5 724.5 1466.0 724.6 1470.0 722.9C1474.0 721.2 1480.5 718.1 1485.7 715.0C1490.9 711.9 1496.2 708.5 1501.4 704.0C1506.6 699.5 1511.9 693.6 1517.1 688.3C1522.3 682.9 1527.6 677.4 1532.8 671.9C1538.0 666.4 1543.3 660.9 1548.5 655.4C1553.7 649.9 1559.0 644.4 1564.2 638.9C1569.4 633.4 1574.7 627.4 1579.9 622.4C1585.1 617.4 1590.4 612.9 1595.6 609.0C1600.8 605.1 1606.1 601.5 1611.3 598.8C1616.5 596.1 1623.1 593.8 1627.0 592.6C1630.9 591.4 1632.3 591.8 1634.9 591.8C1637.5 591.8 1638.8 591.2 1642.7 592.9C1646.6 594.6 1653.2 597.6 1658.4 602.0C1663.6 606.4 1668.9 612.0 1674.1 619.3C1679.3 626.6 1684.6 636.5 1689.8 645.9C1695.0 655.3 1700.3 665.8 1705.5 675.8C1710.7 685.8 1716.0 697.2 1721.2 705.6C1726.4 714.0 1731.7 720.5 1736.9 726.0C1742.1 731.5 1747.4 735.3 1752.6 738.6C1757.8 741.9 1762.1 743.8 1768.3 745.6C1774.5 747.4 1777.1 748.9 1790.0 749.6C1802.9 750.3 1827.9 750.0 1845.8 750.0C1863.7 750.0 1879.8 749.6 1897.2 749.3C1914.6 749.0 1941.2 748.2 1950.0 748.0" fill="none" stroke="#FF0000" stroke-width="8.4" stroke-linejoin="round" stroke-linecap="butt"/>
<g filter="url(#crisp)">
<text x="415.2" y="1538" font-size="60" text-anchor="middle">1000</text>
<text x="671.1" y="1538" font-size="60" text-anchor="middle">1500</text>
<text x="927.0" y="1538" font-size="60" text-anchor="middle">2000</text>
<text x="1182.9" y="1538" font-size="60" text-anchor="middle">2500</text>
<text x="1438.7" y="1538" font-size="60" text-anchor="middle">3000</text>
<text x="1694.6" y="1538" font-size="60" text-anchor="middle">3500</text>
<text x="1950.5" y="1538" font-size="60" text-anchor="middle">4000</text>
<text x="770" y="1662" font-size="74">Wavenumber (cm<tspan font-size="42" dy="-36">-1</tspan><tspan dy="36">)</tspan></text>
<text transform="translate(100,711) rotate(-90)" font-size="74" text-anchor="middle">Abs.</text>
</g>
<rect x="1280.5" y="67.5" width="643" height="371" fill="#fff" stroke="#000" stroke-width="3"/>
<line x1="1281.5" y1="108.3" x2="1376.5" y2="108.3" stroke="#000000" stroke-width="9" stroke-linecap="round"/>
<text x="1392" y="122.8" font-size="60" filter="url(#crisp)">PP</text>
<line x1="1281.5" y1="183.5" x2="1376.5" y2="183.5" stroke="#FF0000" stroke-width="9" stroke-linecap="round"/>
<text x="1392" y="198.0" font-size="60" filter="url(#crisp)">HEC/PP</text>
<line x1="1281.5" y1="258.7" x2="1376.5" y2="258.7" stroke="#00FF00" stroke-width="9" stroke-linecap="round"/>
<text x="1392" y="273.2" font-size="60" filter="url(#crisp)">HEC/LA/PP<tspan dy="5.5">_</tspan><tspan dy="-5.5">A</tspan></text>
<line x1="1281.5" y1="333.9" x2="1376.5" y2="333.9" stroke="#FF00FF" stroke-width="9" stroke-linecap="round"/>
<text x="1392" y="348.4" font-size="60" filter="url(#crisp)">HEC/LA/PP<tspan dy="5.5">_</tspan><tspan dy="-5.5">B.PP</tspan></text>
<line x1="1281.5" y1="409.1" x2="1376.5" y2="409.1" stroke="#0000FF" stroke-width="9" stroke-linecap="round"/>
<text x="1392" y="423.6" font-size="60" filter="url(#crisp)">HEC/LA/PP<tspan dy="5.5">_</tspan><tspan dy="-5.5">B.HEC</tspan></text>
</svg></body></html>
